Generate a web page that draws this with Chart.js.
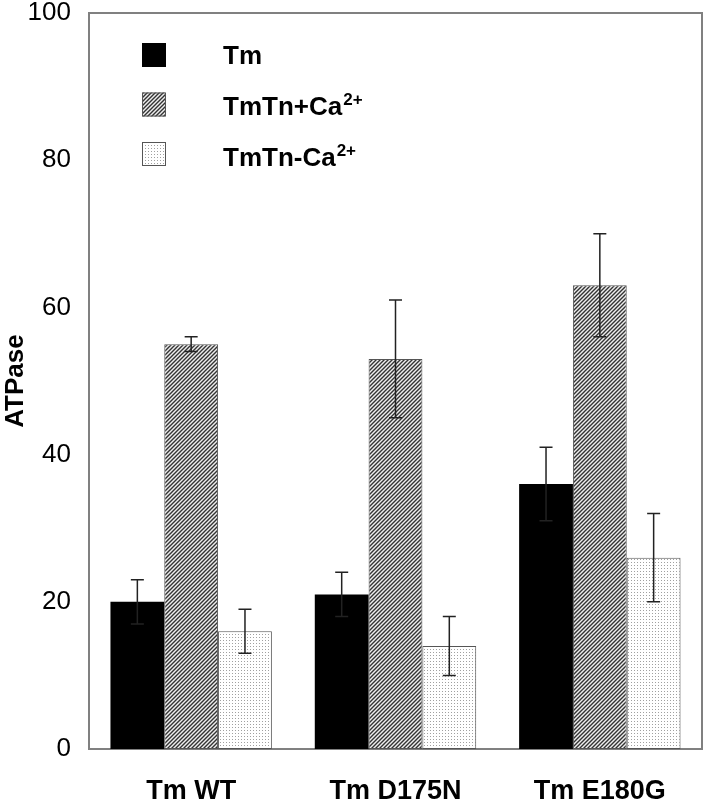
<!DOCTYPE html>
<html>
<head>
<meta charset="utf-8">
<script src="https://cdn.jsdelivr.net/npm/chart.js@4.4.1/dist/chart.umd.min.js"></script>
<style>
  html, body { margin: 0; padding: 0; background: #fff; }
  #wrap { width: 708px; height: 802px; }
</style>
</head>
<body>
<div id="wrap"><canvas id="c" width="708" height="802"></canvas></div>
<script>
/* ATPase activity per tropomyosin variant, with SD error bars. */

const categories = ["Tm WT", "Tm D175N", "Tm E180G"];
const seriesNames = ["Tm", "TmTn+Ca", "TmTn-Ca"];
const seriesSup = ["", "2+", "2+"];

const tmValues = [20, 21, 36];
const tmErrors = [3, 3, 5];
const caPlusValues = [55, 53, 63];
const caPlusErrors = [1, 8, 7];
const caMinusValues = [16, 14, 26];
const caMinusErrors = [3, 4, 6];

const yTicks = [0, 20, 40, 60, 80, 100];

const FONT = "'Liberation Sans', Arial, Helvetica, sans-serif";

/* ---- fill patterns ---- */
function hatchPattern() {
  const s = 4;
  const cv = document.createElement("canvas");
  cv.width = s; cv.height = s;
  const g = cv.getContext("2d");
  g.fillStyle = "#eeeeee";
  g.fillRect(0, 0, s, s);
  g.strokeStyle = "#333333";
  g.lineWidth = 1.4;
  g.beginPath();
  g.moveTo(-1, s + 1); g.lineTo(s + 1, -1);
  g.moveTo(-1, 1); g.lineTo(1, -1);
  g.moveTo(s - 1, s + 1); g.lineTo(s + 1, s - 1);
  g.stroke();
  return g.createPattern(cv, "repeat");
}

function dotPattern() {
  const cv = document.createElement("canvas");
  cv.width = 3; cv.height = 3;
  const g = cv.getContext("2d");
  g.fillStyle = "#ffffff";
  g.fillRect(0, 0, 3, 3);
  g.fillStyle = "#a0a0a0";
  g.fillRect(1, 1, 1, 1);
  return g.createPattern(cv, "repeat");
}

const fills = ["#000000", hatchPattern(), dotPattern()];

/* ---- plot frame ---- */
const framePlugin = {
  id: "frame",
  beforeDatasetsDraw(chart) {
    const { ctx, chartArea: a } = chart;
    ctx.save();
    ctx.strokeStyle = "#808080";
    ctx.lineWidth = 2;
    ctx.strokeRect(a.left, a.top, a.right - a.left, a.bottom - a.top);
    ctx.restore();
  },
};

/* ---- error bars ---- */
const errorBarPlugin = {
  id: "errorBars",
  afterDatasetsDraw(chart) {
    const { ctx } = chart;
    const y = chart.scales.y;
    ctx.save();
    ctx.strokeStyle = "#222222";
    ctx.lineWidth = 1.5;
    chart.data.datasets.forEach((ds, di) => {
      const meta = chart.getDatasetMeta(di);
      meta.data.forEach((bar, i) => {
        const v = ds.data[i], e = ds.errors[i];
        const yTop = y.getPixelForValue(v + e);
        const yBot = y.getPixelForValue(v - e);
        const half = 6.5;
        ctx.beginPath();
        ctx.moveTo(bar.x, yTop); ctx.lineTo(bar.x, yBot);
        ctx.moveTo(bar.x - half, yTop); ctx.lineTo(bar.x + half, yTop);
        ctx.moveTo(bar.x - half, yBot); ctx.lineTo(bar.x + half, yBot);
        ctx.stroke();
      });
    });
    ctx.restore();
  },
};

/* ---- legend with superscripts ---- */
const legendPlugin = {
  id: "supLegend",
  afterDraw(chart) {
    const { ctx, chartArea: a } = chart;
    ctx.save();
    chart.data.datasets.forEach((ds, i) => {
      const bx = a.left + 53, by = a.top + 30 + i * 49.5;
      ctx.fillStyle = ds.backgroundColor;
      ctx.fillRect(bx, by, 24, 24);
      ctx.strokeStyle = i === 0 ? "#000" : "#555";
      ctx.lineWidth = 1;
      ctx.strokeRect(bx + 0.5, by + 0.5, 23, 23);

      const tx = a.left + 134, ty = a.top + 51 + i * 51;
      ctx.fillStyle = "#000";
      ctx.textBaseline = "alphabetic";
      ctx.textAlign = "left";
      ctx.font = "bold 26px " + FONT;
      ctx.fillText(seriesNames[i], tx, ty);
      if (seriesSup[i]) {
        const w = ctx.measureText(seriesNames[i]).width;
        ctx.font = "bold 17px " + FONT;
        ctx.fillText(seriesSup[i], tx + w + 1, ty - 10);
      }
    });
    ctx.restore();
  },
};

const datasets = [
  { label: "Tm", data: tmValues, errors: tmErrors },
  { label: "TmTn+Ca²⁺", data: caPlusValues, errors: caPlusErrors },
  { label: "TmTn-Ca²⁺", data: caMinusValues, errors: caMinusErrors },
].map((d, i) => ({
  ...d,
  backgroundColor: fills[i],
  borderColor: i === 0 ? "#000000" : "#555555",
  borderWidth: i === 0 ? 0 : 1,
  borderSkipped: false,
  categoryPercentage: 0.79,
  barPercentage: 1.0,
}));

new Chart(document.getElementById("c"), {
  type: "bar",
  data: { labels: categories, datasets },
  options: {
    responsive: false,
    animation: false,
    layout: { padding: { top: 13, right: 6, left: 0, bottom: 0 } },
    plugins: { legend: { display: false }, tooltip: { enabled: false } },
    scales: {
      x: {
        grid: { display: false, drawTicks: false },
        border: { display: false },
        ticks: { color: "#000", padding: 26, font: { family: FONT, size: 27, weight: "bold" } },
        afterFit(s) { s.height = 53; },
      },
      y: {
        min: 0, max: 100,
        afterBuildTicks(s) { s.ticks = yTicks.map((v) => ({ value: v })); },
        grid: { display: false, drawTicks: false },
        border: { display: false },
        ticks: { color: "#000", padding: 18, font: { family: FONT, size: 26 } },
        title: { display: true, text: "ATPase", color: "#000", padding: { top: 0, bottom: 8 }, font: { family: FONT, size: 26, weight: "bold" } },
        afterFit(s) { s.width = 89; s.paddingTop = 0; s.paddingBottom = 0; },
      },
    },
  },
  plugins: [framePlugin, errorBarPlugin, legendPlugin],
});
</script>
</body>
</html>
